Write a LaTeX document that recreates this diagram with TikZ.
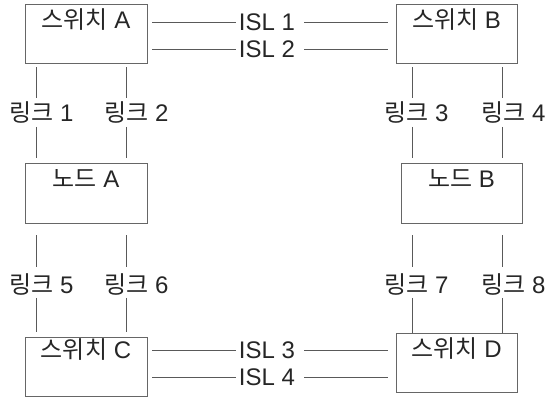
\documentclass[tikz,border=0pt]{standalone}
\usepackage{fontspec}
\usetikzlibrary{calc}
\setmainfont{Liberation Sans}
\newfontfamily\kr{Noto Sans CJK KR}
\tikzset{
  box/.style={draw=black!60, line width=0.9pt, minimum width=122pt, minimum height=59pt, inner sep=0pt},
  ttl/.style={font=\fontsize{24}{28}\selectfont, anchor=base, inner sep=0pt, text=black!85},
  conn/.style={draw=black!65, line width=0.9pt},
}
\begin{document}
\begin{tikzpicture}[x=1pt,y=-1pt]
\useasboundingbox (0,0) rectangle (547,398);
% boxes
\node[box] (swA) at (86,33.5) {};
\node[box, minimum width=121pt] (swB) at (456.5,33.5) {};
\node[box, minimum height=60pt] (ndA) at (86,193) {};
\node[box, minimum width=121pt, minimum height=60pt] (ndB) at (461.5,193) {};
\node[box] (swC) at (86,366.5) {};
\node[box, minimum width=121pt] (swD) at (456.5,363) {};
% titles
\node[ttl] (tA) at ([yshift=-25pt]swA.north) {{\kr 스위치} A};
\node[ttl] (tB) at ([yshift=-25pt]swB.north) {{\kr 스위치} B};
\node[ttl] (tnA) at ([yshift=-25pt]ndA.north) {{\kr 노드} A};
\node[ttl] (tnB) at ([yshift=-25pt]ndB.north) {{\kr 노드} B};
\node[ttl] (tC) at ([yshift=-22pt]swC.north) {{\kr 스위치} C};
\node[ttl] (tD) at ([yshift=-24pt]swD.north) {{\kr 스위치} D};
% ISL labels
\node[ttl] (i1) at (267,30.5) {ISL 1};
\node[ttl] (i2) at (267,57.5) {ISL 2};
\node[ttl] (i3) at (267,358.5) {ISL 3};
\node[ttl] (i4) at (267,385.5) {ISL 4};
\foreach \i/\a/\b in {i1/swA/swB, i2/swA/swB, i3/swC/swD, i4/swC/swD}{
  \coordinate (\i w) at ($(\i.base west)+(-3,-8.5)$);
  \coordinate (\i e) at ($(\i.base east)+(9,-8.5)$);
  \draw[conn] ($(\a.east |- \i w)+(5,0)$) -- (\i w);
  \draw[conn] (\i e) -- ($(\b.west |- \i e)+(-8,0)$);
}
% link columns
\coordinate (c1) at (36,0);
\coordinate (c2) at (126,0);
\coordinate (c3) at (412,0);
\coordinate (c4) at (502,0);
% link labels
\node[ttl, anchor=base west] (l1) at (9,122) {{\kr 링크} 1};
\node[ttl, anchor=base west] (l2) at (104,122) {{\kr 링크} 2};
\node[ttl, anchor=base west] (l3) at (384,122) {{\kr 링크} 3};
\node[ttl, anchor=base west] (l4) at (481,122) {{\kr 링크} 4};
\node[ttl, anchor=base west] (l5) at (9,294) {{\kr 링크} 5};
\node[ttl, anchor=base west] (l6) at (104,294) {{\kr 링크} 6};
\node[ttl, anchor=base west] (l7) at (384,294) {{\kr 링크} 7};
\node[ttl, anchor=base west] (l8) at (481,294) {{\kr 링크} 8};
% link lines
\foreach \c/\l/\t/\btm in {c1/l1/swA/ndA, c2/l2/swA/ndA, c3/l3/swB/ndB, c4/l4/swB/ndB}{
  \draw[conn] ($(\c |- \t.south)+(0,4)$) -- (\c |- 0,98);
  \draw[conn] (\c |- 0,127) -- ($(\c |- \btm.north)+(0,-5)$);
}
\foreach \c/\l/\t/\btm in {c1/l5/ndA/swC, c2/l6/ndA/swC}{
  \draw[conn] ($(\c |- \t.south)+(0,12)$) -- (\c |- 0,267);
  \draw[conn] (\c |- 0,298) -- ($(\c |- \btm.north)+(0,-5)$);
}
\foreach \c/\l/\t/\btm in {c3/l7/ndB/swD, c4/l8/ndB/swD}{
  \draw[conn] ($(\c |- \t.south)+(0,12)$) -- (\c |- 0,267);
  \draw[conn] (\c |- 0,298) -- (\c |- \btm.north);
}
\end{tikzpicture}
\end{document}
